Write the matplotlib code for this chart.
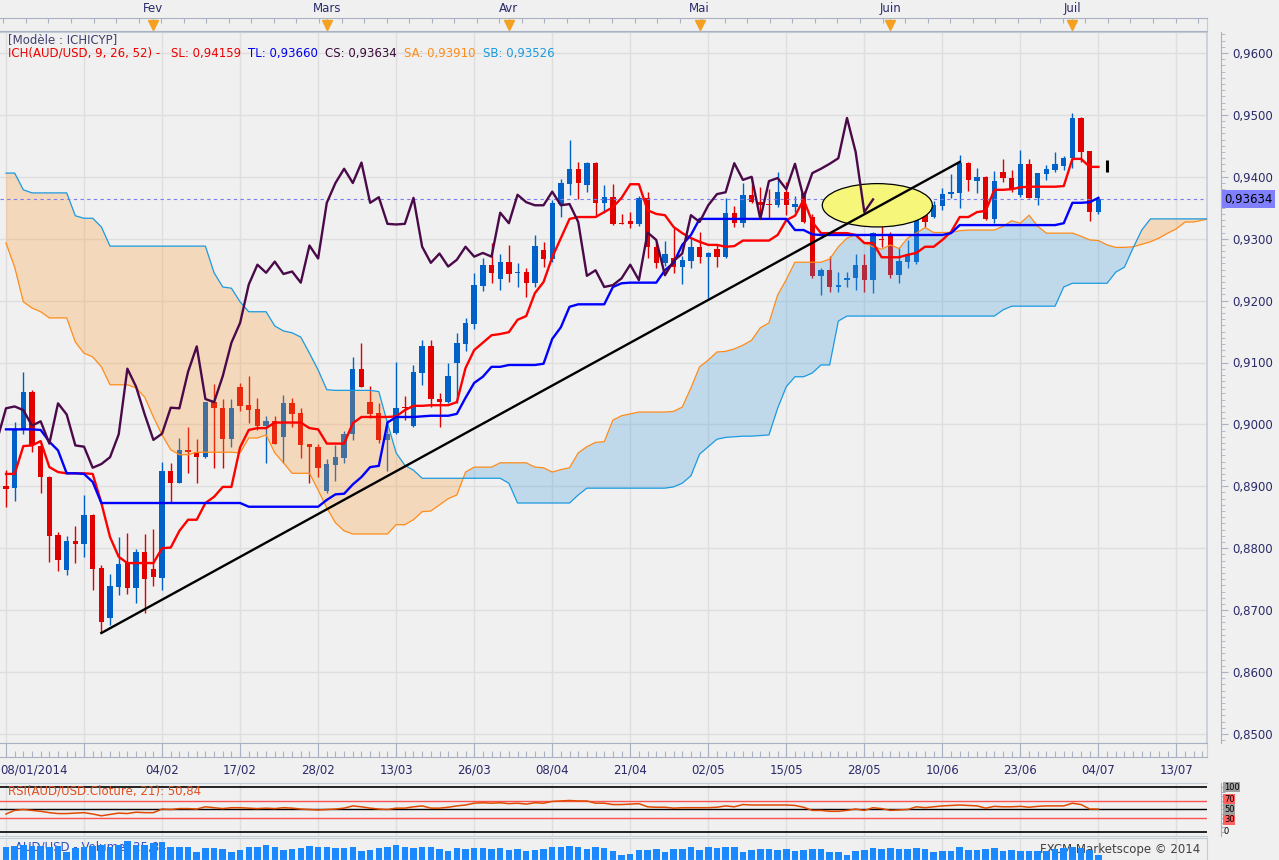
import matplotlib
matplotlib.use("Agg")
import numpy as np
import matplotlib.pyplot as plt
from matplotlib.patches import Ellipse
from matplotlib.ticker import FixedLocator, FixedFormatter, NullFormatter

plt.rcParams['font.family'] = ['DejaVu Sans']

# ---------------- data (daily AUD/USD) ----------------
opens = [0.8900, 0.8897, 0.8992, 0.9052, 0.8965, 0.8915, 0.8821, 0.8765, 0.8811, 0.8806,
         0.8853, 0.8768, 0.8687, 0.8737, 0.8776, 0.8735, 0.8794, 0.8766, 0.8752, 0.8924,
         0.8906, 0.8958, 0.8955, 0.8947, 0.9036, 0.9026, 0.8976, 0.9061, 0.9031, 0.9025,
         0.8997, 0.9005, 0.8979, 0.9034, 0.9018, 0.8969, 0.8964, 0.8892, 0.8934, 0.8945,
         0.8984, 0.9090, 0.9036, 0.9018, 0.8975, 0.8986, 0.9028, 0.8998, 0.9083, 0.9126,
         0.9041, 0.9036, 0.9100, 0.9130, 0.9162, 0.9224, 0.9258, 0.9235, 0.9263, 0.9245,
         0.9247, 0.9229, 0.9281, 0.9268, 0.9356, 0.9388, 0.9413, 0.9387, 0.9423, 0.9358,
         0.9367, 0.9325, 0.9329, 0.9324, 0.9366, 0.9287, 0.9261, 0.9269, 0.9255, 0.9264,
         0.9287, 0.9271, 0.9283, 0.9271, 0.9342, 0.9325, 0.9371, 0.9359, 0.9356, 0.9354,
         0.9376, 0.9352, 0.9374, 0.9335, 0.9240, 0.9249, 0.9222, 0.9233, 0.9236, 0.9258,
         0.9233, 0.9300, 0.9306, 0.9241, 0.9263, 0.9263, 0.9338, 0.9335, 0.9353, 0.9372,
         0.9374, 0.9422, 0.9393, 0.9400, 0.9332, 0.9408, 0.9398, 0.9371, 0.9421, 0.9366,
         0.9405, 0.9411, 0.9417, 0.9430, 0.9495, 0.9442, 0.9343]
highs = [0.8926, 0.9004, 0.9084, 0.9055, 0.8970, 0.8916, 0.8826, 0.8820, 0.8836, 0.8886,
         0.8855, 0.8773, 0.8758, 0.8818, 0.8825, 0.8799, 0.8823, 0.8831, 0.8939, 0.8938,
         0.8978, 0.8996, 0.8976, 0.9036, 0.9065, 0.9041, 0.9041, 0.9067, 0.9078, 0.9043,
         0.9013, 0.9013, 0.9048, 0.9043, 0.9026, 0.8969, 0.8969, 0.8944, 0.8966, 0.8989,
         0.9109, 0.9132, 0.9062, 0.9034, 0.9007, 0.9101, 0.9046, 0.9096, 0.9136, 0.9137,
         0.9051, 0.9100, 0.9148, 0.9172, 0.9244, 0.9269, 0.9293, 0.9276, 0.9290, 0.9261,
         0.9252, 0.9306, 0.9294, 0.9363, 0.9396, 0.9459, 0.9424, 0.9424, 0.9424, 0.9387,
         0.9389, 0.9340, 0.9343, 0.9369, 0.9375, 0.9295, 0.9297, 0.9317, 0.9272, 0.9303,
         0.9311, 0.9279, 0.9290, 0.9366, 0.9353, 0.9390, 0.9400, 0.9384, 0.9381, 0.9408,
         0.9392, 0.9369, 0.9377, 0.9340, 0.9253, 0.9272, 0.9246, 0.9246, 0.9276, 0.9276,
         0.9311, 0.9329, 0.9311, 0.9285, 0.9298, 0.9345, 0.9356, 0.9361, 0.9382, 0.9405,
         0.9435, 0.9424, 0.9414, 0.9402, 0.9409, 0.9429, 0.9411, 0.9443, 0.9429, 0.9406,
         0.9419, 0.9440, 0.9433, 0.9503, 0.9497, 0.9442, 0.9368]
lows = [0.8867, 0.8877, 0.8985, 0.8955, 0.8889, 0.8778, 0.8763, 0.8757, 0.8776, 0.8786,
        0.8733, 0.8663, 0.8676, 0.8724, 0.8726, 0.8711, 0.8695, 0.8739, 0.8733, 0.8875,
        0.8905, 0.8922, 0.8906, 0.8945, 0.8930, 0.8930, 0.8963, 0.9022, 0.9002, 0.8991,
        0.8937, 0.8969, 0.8937, 0.8996, 0.8946, 0.8905, 0.8915, 0.8889, 0.8908, 0.8937,
        0.8975, 0.9061, 0.9011, 0.8970, 0.8924, 0.8984, 0.9007, 0.8995, 0.9064, 0.9028,
        0.8995, 0.9034, 0.9034, 0.9119, 0.9154, 0.9215, 0.9229, 0.9217, 0.9230, 0.9222,
        0.9206, 0.9222, 0.9255, 0.9263, 0.9335, 0.9371, 0.9364, 0.9375, 0.9337, 0.9342,
        0.9322, 0.9323, 0.9317, 0.9320, 0.9269, 0.9253, 0.9256, 0.9245, 0.9227, 0.9253,
        0.9261, 0.9204, 0.9255, 0.9269, 0.9319, 0.9319, 0.9358, 0.9334, 0.9334, 0.9351,
        0.9338, 0.9343, 0.9325, 0.9236, 0.9209, 0.9214, 0.9214, 0.9222, 0.9217, 0.9214,
        0.9212, 0.9287, 0.9236, 0.9228, 0.9253, 0.9259, 0.9319, 0.9333, 0.9346, 0.9366,
        0.9350, 0.9377, 0.9374, 0.9330, 0.9325, 0.9392, 0.9375, 0.9367, 0.9366, 0.9354,
        0.9395, 0.9408, 0.9411, 0.9414, 0.9424, 0.9329, 0.9340]
closes = [0.8896, 0.8992, 0.9052, 0.8966, 0.8915, 0.8819, 0.8781, 0.8811, 0.8806, 0.8853,
          0.8766, 0.8681, 0.8739, 0.8774, 0.8735, 0.8794, 0.8750, 0.8753, 0.8924, 0.8906,
          0.8958, 0.8956, 0.8947, 0.9036, 0.9026, 0.8976, 0.9026, 0.9029, 0.9023, 0.8998,
          0.9005, 0.8969, 0.9034, 0.9016, 0.8966, 0.8964, 0.8930, 0.8936, 0.8947, 0.8984,
          0.9090, 0.9061, 0.9016, 0.8975, 0.8985, 0.9027, 0.9026, 0.9085, 0.9126, 0.9041,
          0.9036, 0.9078, 0.9132, 0.9164, 0.9226, 0.9258, 0.9245, 0.9263, 0.9243, 0.9247,
          0.9229, 0.9289, 0.9268, 0.9358, 0.9390, 0.9413, 0.9390, 0.9423, 0.9358, 0.9367,
          0.9324, 0.9323, 0.9324, 0.9366, 0.9287, 0.9261, 0.9276, 0.9255, 0.9266, 0.9287,
          0.9271, 0.9277, 0.9271, 0.9342, 0.9325, 0.9371, 0.9359, 0.9354, 0.9354, 0.9376,
          0.9354, 0.9356, 0.9327, 0.9240, 0.9249, 0.9222, 0.9225, 0.9236, 0.9258, 0.9233,
          0.9310, 0.9298, 0.9241, 0.9264, 0.9276, 0.9338, 0.9327, 0.9354, 0.9372, 0.9375,
          0.9422, 0.9395, 0.9400, 0.9332, 0.9393, 0.9398, 0.9380, 0.9421, 0.9366, 0.9406,
          0.9413, 0.9421, 0.9430, 0.9495, 0.9440, 0.9343, 0.93634]

tenkan = [0.8920, 0.8920, 0.8965, 0.8966, 0.8973, 0.8931, 0.8923, 0.8921, 0.8921, 0.8921,
          0.8920, 0.8873, 0.8818, 0.8786, 0.8776, 0.8776, 0.8776, 0.8776, 0.8800, 0.8801,
          0.8828, 0.8846, 0.8846, 0.8873, 0.8883, 0.8899, 0.8899, 0.8963, 0.8991, 0.8994,
          0.8994, 0.9003, 0.9003, 0.9003, 0.9003, 0.8994, 0.8992, 0.8969, 0.8969, 0.8969,
          0.9002, 0.9012, 0.9012, 0.9012, 0.9012, 0.9013, 0.9023, 0.9030, 0.9030, 0.9031,
          0.9031, 0.9031, 0.9036, 0.9091, 0.9120, 0.9132, 0.9144, 0.9146, 0.9149, 0.9169,
          0.9175, 0.9212, 0.9230, 0.9270, 0.9301, 0.9332, 0.9335, 0.9335, 0.9335, 0.9343,
          0.9351, 0.9366, 0.9388, 0.9388, 0.9346, 0.9340, 0.9338, 0.9319, 0.9309, 0.9301,
          0.9295, 0.9290, 0.9290, 0.9287, 0.9288, 0.9297, 0.9297, 0.9297, 0.9297, 0.9306,
          0.9330, 0.9337, 0.9363, 0.9327, 0.9309, 0.9309, 0.9309, 0.9309, 0.9306, 0.9293,
          0.9293, 0.9270, 0.9270, 0.9270, 0.9274, 0.9277, 0.9287, 0.9287, 0.9298, 0.9311,
          0.9335, 0.9335, 0.9343, 0.9345, 0.9379, 0.9379, 0.9380, 0.9383, 0.9384, 0.9384,
          0.9384, 0.9384, 0.9385, 0.9429, 0.9429, 0.9416, 0.9416]
kijun = [0.8992, 0.8992, 0.8992, 0.8992, 0.8991, 0.8972, 0.8958, 0.8921, 0.8921, 0.8920,
         0.8907, 0.8873, 0.8873, 0.8873, 0.8873, 0.8873, 0.8873, 0.8873, 0.8873, 0.8873,
         0.8873, 0.8873, 0.8873, 0.8873, 0.8873, 0.8873, 0.8873, 0.8873, 0.8867, 0.8867,
         0.8867, 0.8867, 0.8867, 0.8867, 0.8867, 0.8867, 0.8867, 0.8878, 0.8887, 0.8888,
         0.8903, 0.8915, 0.8931, 0.8933, 0.9003, 0.9012, 0.9012, 0.9012, 0.9013, 0.9014,
         0.9014, 0.9014, 0.9017, 0.9043, 0.9067, 0.9077, 0.9093, 0.9093, 0.9096, 0.9096,
         0.9096, 0.9096, 0.9098, 0.9138, 0.9157, 0.9190, 0.9194, 0.9194, 0.9194, 0.9194,
         0.9222, 0.9228, 0.9229, 0.9229, 0.9229, 0.9229, 0.9249, 0.9261, 0.9290, 0.9306,
         0.9332, 0.9332, 0.9332, 0.9332, 0.9332, 0.9332, 0.9332, 0.9332, 0.9332, 0.9332,
         0.9332, 0.9314, 0.9314, 0.9307, 0.9306, 0.9306, 0.9306, 0.9306, 0.9306, 0.9306,
         0.9306, 0.9306, 0.9306, 0.9306, 0.9306, 0.9306, 0.9306, 0.9306, 0.9306, 0.9309,
         0.9322, 0.9322, 0.9322, 0.9322, 0.9322, 0.9322, 0.9322, 0.9322, 0.9322, 0.9322,
         0.9322, 0.9322, 0.9325, 0.9358, 0.9358, 0.9359, 0.9366]
senkou_a = [0.9293, 0.9254, 0.9198, 0.9188, 0.9182, 0.9172, 0.9172, 0.9172, 0.9133, 0.9115,
            0.9109, 0.9093, 0.9064, 0.9064, 0.9064, 0.9059, 0.9044, 0.9012, 0.8983, 0.8959,
            0.8951, 0.8951, 0.8955, 0.8955, 0.8955, 0.8955, 0.8955, 0.8954, 0.8978, 0.8978,
            0.8983, 0.8954, 0.8938, 0.8921, 0.8921, 0.8921, 0.8894, 0.8865, 0.8841, 0.8828,
            0.8823, 0.8823, 0.8823, 0.8823, 0.8823, 0.8838, 0.8838, 0.8846, 0.8859, 0.8860,
            0.8870, 0.8880, 0.8886, 0.8923, 0.8931, 0.8931, 0.8931, 0.8938, 0.8938, 0.8938,
            0.8938, 0.8931, 0.8930, 0.8923, 0.8927, 0.8930, 0.8954, 0.8964, 0.8971, 0.8972,
            0.9007, 0.9014, 0.9017, 0.9020, 0.9020, 0.9020, 0.9020, 0.9021, 0.9028, 0.9059,
            0.9093, 0.9104, 0.9117, 0.9118, 0.9122, 0.9128, 0.9136, 0.9156, 0.9164, 0.9209,
            0.9234, 0.9262, 0.9262, 0.9262, 0.9262, 0.9267, 0.9287, 0.9301, 0.9306, 0.9293,
            0.9287, 0.9283, 0.9290, 0.9284, 0.9301, 0.9309, 0.9318, 0.9310, 0.9310, 0.9310,
            0.9313, 0.9314, 0.9314, 0.9314, 0.9314, 0.9320, 0.9329, 0.9325, 0.9338, 0.9320,
            0.9309, 0.9309, 0.9309, 0.9309, 0.9304, 0.9298, 0.9297, 0.9290, 0.9286, 0.9286,
            0.9287, 0.9291, 0.9295, 0.9301, 0.9309, 0.9316, 0.9327, 0.9327, 0.9330, 0.9333]
senkou_b = [0.9406, 0.9406, 0.9379, 0.9374, 0.9374, 0.9374, 0.9374, 0.9374, 0.9337, 0.9333,
            0.9333, 0.9319, 0.9288, 0.9288, 0.9288, 0.9288, 0.9288, 0.9288, 0.9288, 0.9288,
            0.9288, 0.9288, 0.9288, 0.9288, 0.9245, 0.9222, 0.9220, 0.9198, 0.9182, 0.9182,
            0.9182, 0.9159, 0.9151, 0.9148, 0.9141, 0.9115, 0.9088, 0.9056, 0.9055, 0.9055,
            0.9055, 0.9055, 0.9055, 0.9053, 0.9002, 0.8954, 0.8934, 0.8926, 0.8913, 0.8913,
            0.8913, 0.8913, 0.8913, 0.8913, 0.8913, 0.8913, 0.8913, 0.8913, 0.8905, 0.8873,
            0.8873, 0.8873, 0.8873, 0.8873, 0.8873, 0.8873, 0.8886, 0.8897, 0.8897, 0.8897,
            0.8897, 0.8897, 0.8897, 0.8897, 0.8897, 0.8897, 0.8897, 0.8899, 0.8905, 0.8917,
            0.8952, 0.8964, 0.8976, 0.8979, 0.8980, 0.8981, 0.8981, 0.8982, 0.8983, 0.9026,
            0.9061, 0.9077, 0.9077, 0.9083, 0.9096, 0.9096, 0.9167, 0.9175, 0.9175, 0.9175,
            0.9175, 0.9175, 0.9175, 0.9175, 0.9175, 0.9175, 0.9175, 0.9175, 0.9175, 0.9175,
            0.9175, 0.9175, 0.9175, 0.9175, 0.9175, 0.9185, 0.9191, 0.9191, 0.9191, 0.9191,
            0.9191, 0.9191, 0.9222, 0.9228, 0.9228, 0.9228, 0.9228, 0.9228, 0.9246, 0.9254,
            0.9285, 0.9314, 0.9332, 0.9332, 0.9332, 0.9332, 0.9332, 0.9332, 0.9332, 0.9332]

rsi = [40, 48, 50, 48, 46, 43, 41, 41, 42, 43,
       40, 36, 39, 42, 41, 44, 43, 43, 51, 50,
       52, 52, 51, 56, 54, 52, 54, 54, 53, 52,
       53, 52, 54, 53, 51, 50, 49, 50, 51, 53,
       58, 56, 53, 51, 50, 53, 53, 56, 58, 53,
       53, 55, 58, 60, 64, 65, 64, 65, 63, 64,
       62, 65, 64, 68, 69, 70, 69, 69, 64, 64,
       61, 61, 62, 63, 56, 55, 55, 53, 54, 54,
       54, 54, 55, 58, 56, 61, 60, 60, 60, 60,
       60, 59, 55, 48, 48, 46, 46, 48, 51, 48,
       54, 52, 48, 49, 50, 56, 54, 56, 58, 59,
       60, 59, 58, 53, 57, 56, 56, 57, 55, 57,
       58, 58, 58, 64, 61, 51, 50.84]
volume = [40, 42, 45, 42, 42, 40, 42, 25, 35, 40,
          42, 45, 40, 45, 57, 45, 45, 50, 53, 40,
          40, 38, 25, 35, 35, 32, 25, 30, 38, 40,
          45, 40, 30, 32, 35, 42, 40, 38, 35, 35,
          40, 28, 30, 35, 38, 45, 40, 35, 38, 40,
          33, 28, 35, 32, 37, 35, 32, 35, 30, 32,
          28, 30, 34, 38, 38, 42, 40, 33, 40, 35,
          28, 15, 18, 30, 30, 32, 25, 32, 32, 40,
          30, 40, 35, 40, 40, 25, 30, 32, 32, 30,
          32, 28, 30, 32, 32, 25, 25, 15, 28, 30,
          35, 32, 35, 32, 32, 35, 32, 25, 28, 28,
          38, 30, 30, 32, 35, 28, 30, 28, 28, 28,
          28, 32, 35, 40, 35, 30, 15]

date_labels = ["04/02", "17/02", "28/02", "13/03", "26/03", "08/04", "21/04",
               "02/05", "15/05", "28/05", "10/06", "23/06", "04/07", "13/07"]
date_pos = [18, 27, 36, 45, 54, 63, 72, 81, 90, 99, 108, 117, 126, 135]
month_labels = ["Fev", "Mars", "Avr", "Mai", "Juin", "Juil"]
month_pos = [17, 37, 58, 80, 102, 123]

trend_x = [11, 110]
trend_y = [0.8663, 0.9424]
last_price = 0.93634

# ---------------- layout helpers ----------------
W, H = 1279, 860
BG = '#f0f0f0'
NAVY = '#2a2a6a'
FRAME = '#a8b2c2'
GRID = '#dedede'
XLIM = (-6 / 8.67, (1207 - 6) / 8.67)


def px_axes(fig, x0, y0, x1, y1):
    return fig.add_axes([x0 / W, 1 - y1 / H, (x1 - x0) / W, (y1 - y0) / H])


def style_axes(ax):
    ax.set_facecolor(BG)
    ax.set_xlim(*XLIM)
    for s in ax.spines.values():
        s.set_color('#c4ccd8')
    ax.spines['left'].set_visible(False)


fig = plt.figure(figsize=(W / 100, H / 100), dpi=100, facecolor=BG)

# ---------------- main price panel ----------------
ax = px_axes(fig, 0, 32, 1207, 743)
style_axes(ax)
ax.set_ylim(0.96 - (743 - 53) / 6190, 0.96 + (53 - 32) / 6190)

idx = np.arange(len(closes))
o = np.array(opens)
c = np.array(closes)
up = c >= o
col = np.where(up, '#0062c8', '#e00000')
ax.vlines(idx, lows, highs, colors=col, lw=1.0, zorder=2)
body_lo = np.minimum(o, c)
body_h = np.maximum(np.abs(c - o), 0.00012)
ax.bar(idx, body_h, bottom=body_lo, width=0.62, color=col, lw=0, zorder=2)

# cloud, projected ahead
xc = np.arange(len(senkou_a))
sa = np.array(senkou_a)
sb = np.array(senkou_b)
ax.fill_between(xc, sa, sb, where=sa >= sb, interpolate=True,
                color='#40a0e0', alpha=0.28, lw=0, zorder=3)
ax.fill_between(xc, sa, sb, where=sa < sb, interpolate=True,
                color='#ff9933', alpha=0.27, lw=0, zorder=3)
ax.plot(xc, sa, color='#ff8c1a', lw=0.9, zorder=4)
ax.plot(xc, sb, color='#1a9ae0', lw=0.9, zorder=4)

ax.axhline(last_price, xmax=0.997, color='#7b7bef', lw=0.8, dashes=(3, 3), zorder=4)

ell = Ellipse((100.5, 0.9354), 12.7, 0.0070, facecolor='#f6f67a',
              edgecolor='black', lw=0.9, zorder=4.5)
ax.add_patch(ell)

ax.plot(idx, tenkan, color='#ff0000', lw=1.7, zorder=5)
ax.plot(idx, kijun, color='#0000ff', lw=1.7, zorder=5)
ax.plot(idx[25:] - 26, closes[25:], color='#4a0a4a', lw=1.7, zorder=5)
ax.plot(trend_x, trend_y, color='black', lw=1.7, zorder=6)
ax.vlines(127, 0.9407, 0.9427, colors='black', lw=2.2, zorder=6)

price_ticks = np.round(np.arange(0.85, 0.9601, 0.01), 4)
ax.yaxis.set_major_locator(FixedLocator(price_ticks))
ax.yaxis.set_major_formatter(FixedFormatter([f"{t:.4f}".replace('.', ',') for t in price_ticks]))
ax.yaxis.set_minor_locator(FixedLocator(np.round(np.arange(0.849, 0.9631, 0.001), 4)))
ax.yaxis.tick_right()
ax.spines['right'].set_position(('outward', 10))
ax.spines['right'].set_color(FRAME)
ax.tick_params(axis='y', which='major', length=5, color=FRAME, labelsize=8.5,
               labelcolor=NAVY, pad=3)
ax.tick_params(axis='y', which='minor', length=3, color=FRAME)
ax.set_xticks(np.arange(0, 139, 9))
ax.tick_params(axis='x', length=0, labelbottom=False)
ax.grid(True, which='major', color=GRID, lw=1.0, zorder=0)
ax.set_axisbelow(True)
ax.plot([1, 1], [0, 1], transform=ax.transAxes, color='#c4ccd8', lw=1.2, clip_on=False)

fig.text(1224 / W, 1 - 199 / H, "0,93634", fontsize=8.5, color='black', va='center',
         bbox=dict(facecolor='#8080ff', edgecolor='none', pad=1.5))

# legend texts
def ftext(x, y, s, **kw):
    fig.text(x / W, 1 - y / H, s, va='center', fontsize=8.5, **kw)

ftext(8, 40, "[Modèle : ICHICYP]", color='#404070')
ftext(8, 53, "ICH(AUD/USD, 9, 26, 52) -", color='#ee0000')
ftext(171, 53, "SL: 0,94159", color='#ee0000')
ftext(248, 53, "TL: 0,93660", color='#0000ee')
ftext(325, 53, "CS: 0,93634", color='#3a0a3a')
ftext(404, 53, "SA: 0,93910", color='#ff8c1a')
ftext(483, 53, "SB: 0,93526", color='#1a9ae0')

# ---------------- top month ruler ----------------
axt = px_axes(fig, 0, 18, 1207, 31)
style_axes(axt)
axt.set_ylim(0, 1)
axt.set_xticks([])
axt.set_yticks([])
for s in ('top', 'bottom'):
    axt.spines[s].set_color(FRAME)
axt.vlines(np.arange(-0.3, 139, 2.6), 0.6, 1.0, colors=FRAME, lw=0.8)
axt.vlines(month_pos, 0.0, 1.0, colors='#b8c0cc', lw=0.8)
axt.plot(month_pos, [0.45] * len(month_pos), 'v', color='#f5a020', ms=7, clip_on=False)
for m, lab in zip(month_pos, month_labels):
    axt.text(m, 1.75, lab, ha='center', va='center', fontsize=8.5, color=NAVY,
             clip_on=False)

# ---------------- bottom date ruler ----------------
axb = px_axes(fig, 0, 743, 1207, 757)
style_axes(axb)
axb.set_ylim(0, 1)
axb.set_xticks([])
axb.set_yticks([])
for s in ('top', 'bottom'):
    axb.spines[s].set_color(FRAME)
axb.vlines(np.arange(0, 139), 0.0, 0.4, colors=FRAME, lw=0.8)
axb.vlines(np.arange(0, 139, 9), 0.0, 1.0, colors=FRAME, lw=0.8)
axb.text(XLIM[0], -0.9, "08/01/2014", ha='left', va='center', fontsize=8.5,
         color=NAVY, clip_on=False)
for p, lab in zip(date_pos, date_labels):
    axb.text(p, -0.9, lab, ha='center', va='center', fontsize=8.5, color=NAVY,
             clip_on=False)

# ---------------- RSI panel ----------------
axr = px_axes(fig, 0, 783, 1207, 836)
style_axes(axr)
axr.set_ylim(-8.9, 108.9)
axr.set_xticks(np.arange(0, 139, 9))
axr.tick_params(axis='x', length=0, labelbottom=False)
axr.grid(True, axis='x', color=GRID, lw=1.0)
axr.set_axisbelow(True)
axr.yaxis.tick_right()
axr.spines['right'].set_position(('outward', 10))
axr.spines['right'].set_color(FRAME)
axr.set_yticks(np.arange(0, 101, 10))
axr.yaxis.set_major_formatter(NullFormatter())
axr.tick_params(axis='y', length=3, color=FRAME)
axr.axhline(100, color='black', lw=1.2)
axr.axhline(0, color='black', lw=1.2)
axr.axhline(50, color='black', lw=1.0)
axr.axhline(70, color='#ff5050', lw=1.0)
axr.axhline(30, color='#ff5050', lw=1.0)
axr.plot(idx, rsi, color='#e04a00', lw=1.1, zorder=4)
axr.text(8 / 8.67 - 0.69, 92, "RSI(AUD/USD.Cloture, 21): 50,84", fontsize=8.5,
         color='#e05020', va='center')
# right-hand level labels (nudged apart so they stay readable)
for ypx, lab, bg in [(787, "100", '#a0a0a0'), (799, "70", '#ff6060'),
                     (809.5, "50", '#a0a0a0'), (820, "30", '#ff6060'), (832, "0", 'none')]:
    fig.text(1224 / W, 1 - ypx / H, lab, fontsize=6, color='black', va='center',
             bbox=dict(facecolor=bg, edgecolor='none', pad=0.4))

# ---------------- volume panel ----------------
axv = px_axes(fig, 0, 838, 1207, 860)
style_axes(axv)
axv.set_ylim(0, 66)
axv.set_xticks(np.arange(0, 139, 9))
axv.tick_params(axis='x', length=0, labelbottom=False)
axv.grid(True, axis='x', color=GRID, lw=1.0)
axv.set_axisbelow(True)
axv.set_yticks([])
axv.text(1.0, 40, "AUD/USD - Volume: 25,84", fontsize=8.5, color='#3050c0',
         va='center', zorder=1)
axv.text(137.8, 33, "FXCM Marketscope © 2014", fontsize=8.5, color='#404040',
         ha='right', va='center', zorder=1)
axv.bar(idx, volume, width=0.75, color='#1a88ff', lw=0, zorder=2)

fig.savefig("out.png", dpi=100, facecolor=BG)
